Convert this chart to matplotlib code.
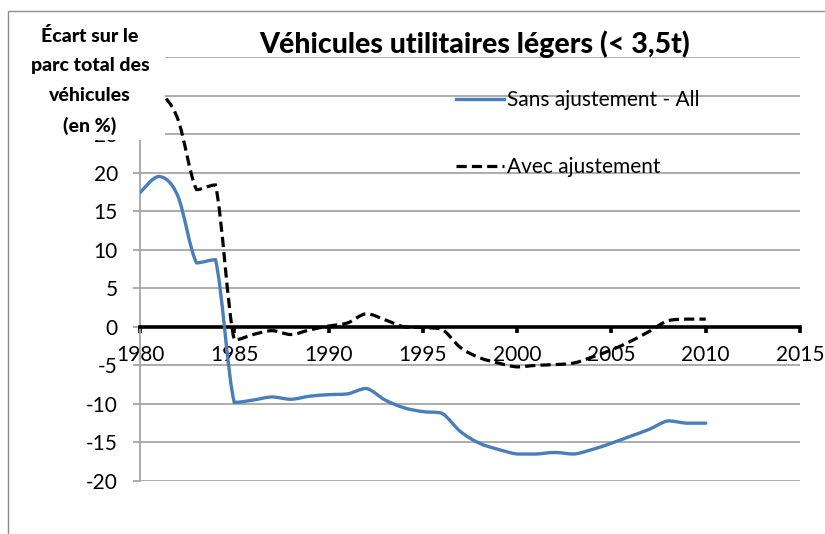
import matplotlib
matplotlib.use("Agg")
from matplotlib import pyplot as plt
from matplotlib.path import Path
from matplotlib.patches import PathPatch, Rectangle
from matplotlib.lines import Line2D

plt.rcParams["font.family"] = ["Lato", "DejaVu Sans"]
plt.rcParams["axes.unicode_minus"] = False

years = list(range(1980, 2011))
sans_ajust = [17.4, 19.5, 17.0, 8.3, 8.7, -9.8, -9.5, -9.1, -9.4, -9.0,
              -8.8, -8.7, -8.0, -9.5, -10.5, -11.0, -11.2, -13.6, -15.1, -15.9,
              -16.5, -16.5, -16.3, -16.5, -15.9, -15.1, -14.2, -13.3, -12.2, -12.5,
              -12.5]
avec_ajust = [31.5, 30.5, 27.0, 17.8, 18.4, -1.7, -1.0, -0.5, -1.0, -0.4,
              0.1, 0.5, 1.7, 0.9, 0.0, -0.1, -0.3, -2.7, -4.0, -4.7,
              -5.2, -5.0, -4.9, -4.7, -3.9, -3.0, -1.9, -0.6, 0.8, 1.0,
              1.0]
xticks = list(range(1980, 2016, 5))
yticks = list(range(-20, 36, 5))
# 30 and 35 sit under the axis title box
ytick_labels = [str(v) if v <= 25 else "" for v in yticks]

W, H = 825, 534


def fx(px):
    return px / W


def fy(py):
    return 1 - py / H


def clamp(v, a, b):
    return max(min(a, b), min(max(a, b), v))


def smooth_path(xs, ys):
    # smoothed line like the spreadsheet one: cubic bezier between points,
    # control points kept inside each segment's range (no overshoot)
    pts = list(zip(xs, ys))
    verts = [pts[0]]
    codes = [Path.MOVETO]
    n = len(pts)
    for i in range(n - 1):
        p0 = pts[i - 1] if i > 0 else pts[i]
        p1 = pts[i]
        p2 = pts[i + 1]
        p3 = pts[i + 2] if i + 2 < n else pts[i + 1]
        c1y = clamp(p1[1] + (p2[1] - p0[1]) / 6, p1[1], p2[1])
        c2y = clamp(p2[1] - (p3[1] - p1[1]) / 6, p1[1], p2[1])
        c1 = (p1[0] + (p2[0] - p0[0]) / 6, c1y)
        c2 = (p2[0] - (p3[0] - p1[0]) / 6, c2y)
        verts += [c1, c2, p2]
        codes += [Path.CURVE4] * 3
    return Path(verts, codes)


fig = plt.figure(figsize=(W / 100, H / 100), dpi=100)
ax = fig.add_axes([fx(140), fy(481), fx(800) - fx(140), fy(57) - fy(481)])

blue = "#4a7ebb"
grid_c = "#a6a6a6"

ax.add_patch(PathPatch(smooth_path(years, sans_ajust), fill=False,
                       edgecolor=blue, lw=2.4, capstyle="round", zorder=3))
ax.add_patch(PathPatch(smooth_path(years, avec_ajust), fill=False,
                       edgecolor="black", lw=2.3, linestyle=(0, (3.2, 1.6)),
                       zorder=3))

ax.set_xlim(1980, 2015)
ax.set_ylim(-20, 35)
ax.set_xticks(xticks)
ax.set_yticks(yticks)
ax.set_yticklabels(ytick_labels)
ax.yaxis.grid(True, color=grid_c, lw=1.3)
ax.set_axisbelow(True)

for s in ["top", "right"]:
    ax.spines[s].set_visible(False)
ax.spines["left"].set_color(grid_c)
ax.spines["left"].set_linewidth(1.3)
ax.spines["bottom"].set_position(("data", 0))
ax.spines["bottom"].set_linewidth(2.6)
ax.spines["bottom"].set_zorder(2.5)

ax.tick_params(axis="x", direction="out", length=4, width=2.6, color="black",
               labelsize=15, pad=9)
ax.tick_params(axis="y", direction="out", length=5, width=1.3, color=grid_c,
               labelsize=15, pad=11)

handles = [Line2D([], [], color=blue, lw=2.4),
           Line2D([], [], color="black", lw=2.3, linestyle=(0, (3.2, 1.6)))]
fig.legend(handles, ["Sans ajustement - All", "Avec ajustement"],
           loc="upper left", bbox_to_anchor=(fx(456), fy(90)),
           frameon=False, fontsize=15, handlelength=2.3, handletextpad=0.15,
           labelspacing=2.25, borderpad=0, borderaxespad=0)

fig.text(fx(475), fy(44), "Véhicules utilitaires légers (< 3,5t)",
         ha="center", va="center", fontsize=20.5, fontweight="black")

# white box of the axis title, covering the top of the value axis
fig.patches.append(Rectangle((fx(12), fy(140)), fx(165) - fx(12),
                             fy(14) - fy(140), transform=fig.transFigure,
                             facecolor="white", edgecolor="none", zorder=5))
fig.text(fx(90), fy(81), "Écart sur le\nparc total des\nvéhicules\n(en %)",
         ha="center", va="center", fontsize=14, fontweight="black",
         linespacing=1.9, zorder=6)

# outer chart frame
fig.patches.append(Rectangle((fx(8), fy(560)), fx(900), fy(11) - fy(560),
                             transform=fig.transFigure, facecolor="none",
                             edgecolor="#8c8c8c", lw=1.0, zorder=7))

fig.savefig("out.png", dpi=100)
